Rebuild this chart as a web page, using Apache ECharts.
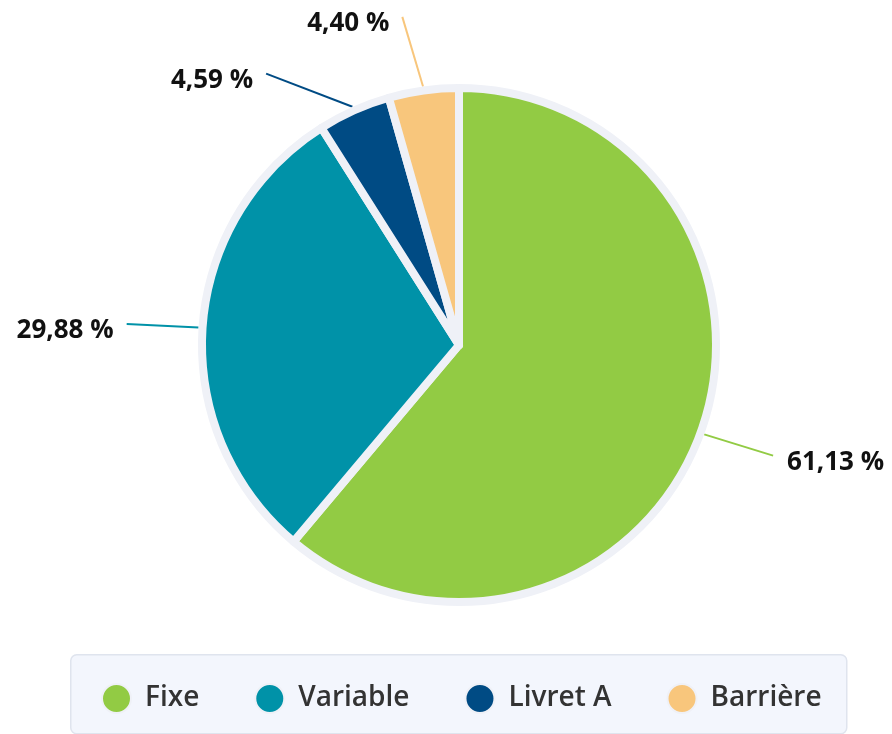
<!DOCTYPE html>
<html>
<head>
<meta charset="utf-8">
<script src="https://cdn.jsdelivr.net/npm/echarts@6/dist/echarts.min.js"></script>
<style>
  html, body { margin: 0; padding: 0; background: #fff; }
  #chart { width: 892px; height: 734px; }
</style>
</head>
<body>
<div id="chart"></div>
<script>
const categories = ['Fixe', 'Variable', 'Livret A', 'Barrière'];
const shares = [61.13, 29.88, 4.59, 4.40];
const colors = ['#92cb44', '#0092a8', '#004b84', '#f8c67c'];
// where each label sits around the pie (degrees clockwise from 12 o'clock)
const labelAngles = [109.4, 273.6, 324.6, 350.2];

const CX = 459, CY = 345, R = 257, RING = 4, LABEL_R = 333;

const chart = echarts.init(document.getElementById('chart'));

function fmt(v) {
  return v.toFixed(2).replace('.', ',') + ' %';
}

chart.setOption({
  animation: false,
  color: colors,
  graphic: [{
    type: 'rect',
    left: 70,
    top: 654,
    z: -1,
    shape: {width: 776, height: 79, r: 6},
    style: {fill: '#f3f6fd', stroke: '#dfe4ee', lineWidth: 1.5}
  }],
  legend: {
    data: categories,
    left: 96,
    top: 678,
    icon: 'circle',
    itemWidth: 29,
    itemHeight: 29,
    itemGap: 55,
    textStyle: {
      fontFamily: 'Open Sans',
      fontSize: 28,
      fontWeight: 600,
      color: '#333',
      padding: [0, 0, 0, 9]
    }
  },
  series: [{
    type: 'pie',
    center: [CX, CY],
    radius: R,
    startAngle: 90,
    clockwise: true,
    avoidLabelOverlap: false,
    emphasis: {disabled: true},
    itemStyle: {
      borderColor: '#eff1f7',
      borderWidth: RING * 2
    },
    label: {
      show: true,
      position: 'outside',
      formatter: p => fmt(p.value),
      fontFamily: 'Open Sans',
      fontSize: 26,
      fontWeight: 'bold',
      color: '#111'
    },
    labelLine: {
      show: true,
      length: 20,
      length2: 0,
      lineStyle: {width: 2}
    },
    labelLayout: function (params) {
      const i = params.dataIndex;
      const a = labelAngles[i] * Math.PI / 180;
      const ex = CX + LABEL_R * Math.sin(a);
      const ey = CY - LABEL_R * Math.cos(a);
      const right = Math.sin(a) > 0;
      const p0 = params.labelLinePoints[0];
      const dx = p0[0] - CX, dy = p0[1] - CY;
      const d = Math.sqrt(dx * dx + dy * dy);
      const s = (d + RING) / d;
      const start = [CX + dx * s, CY + dy * s];
      return {
        x: ex + (right ? 14 : -13),
        y: ey + 7,
        align: right ? 'left' : 'right',
        verticalAlign: 'middle',
        labelLinePoints: [start, [ex, ey], [ex, ey]]
      };
    },
    data: categories.map((c, i) => ({name: c, value: shares[i]}))
  }]
});
</script>
</body>
</html>
